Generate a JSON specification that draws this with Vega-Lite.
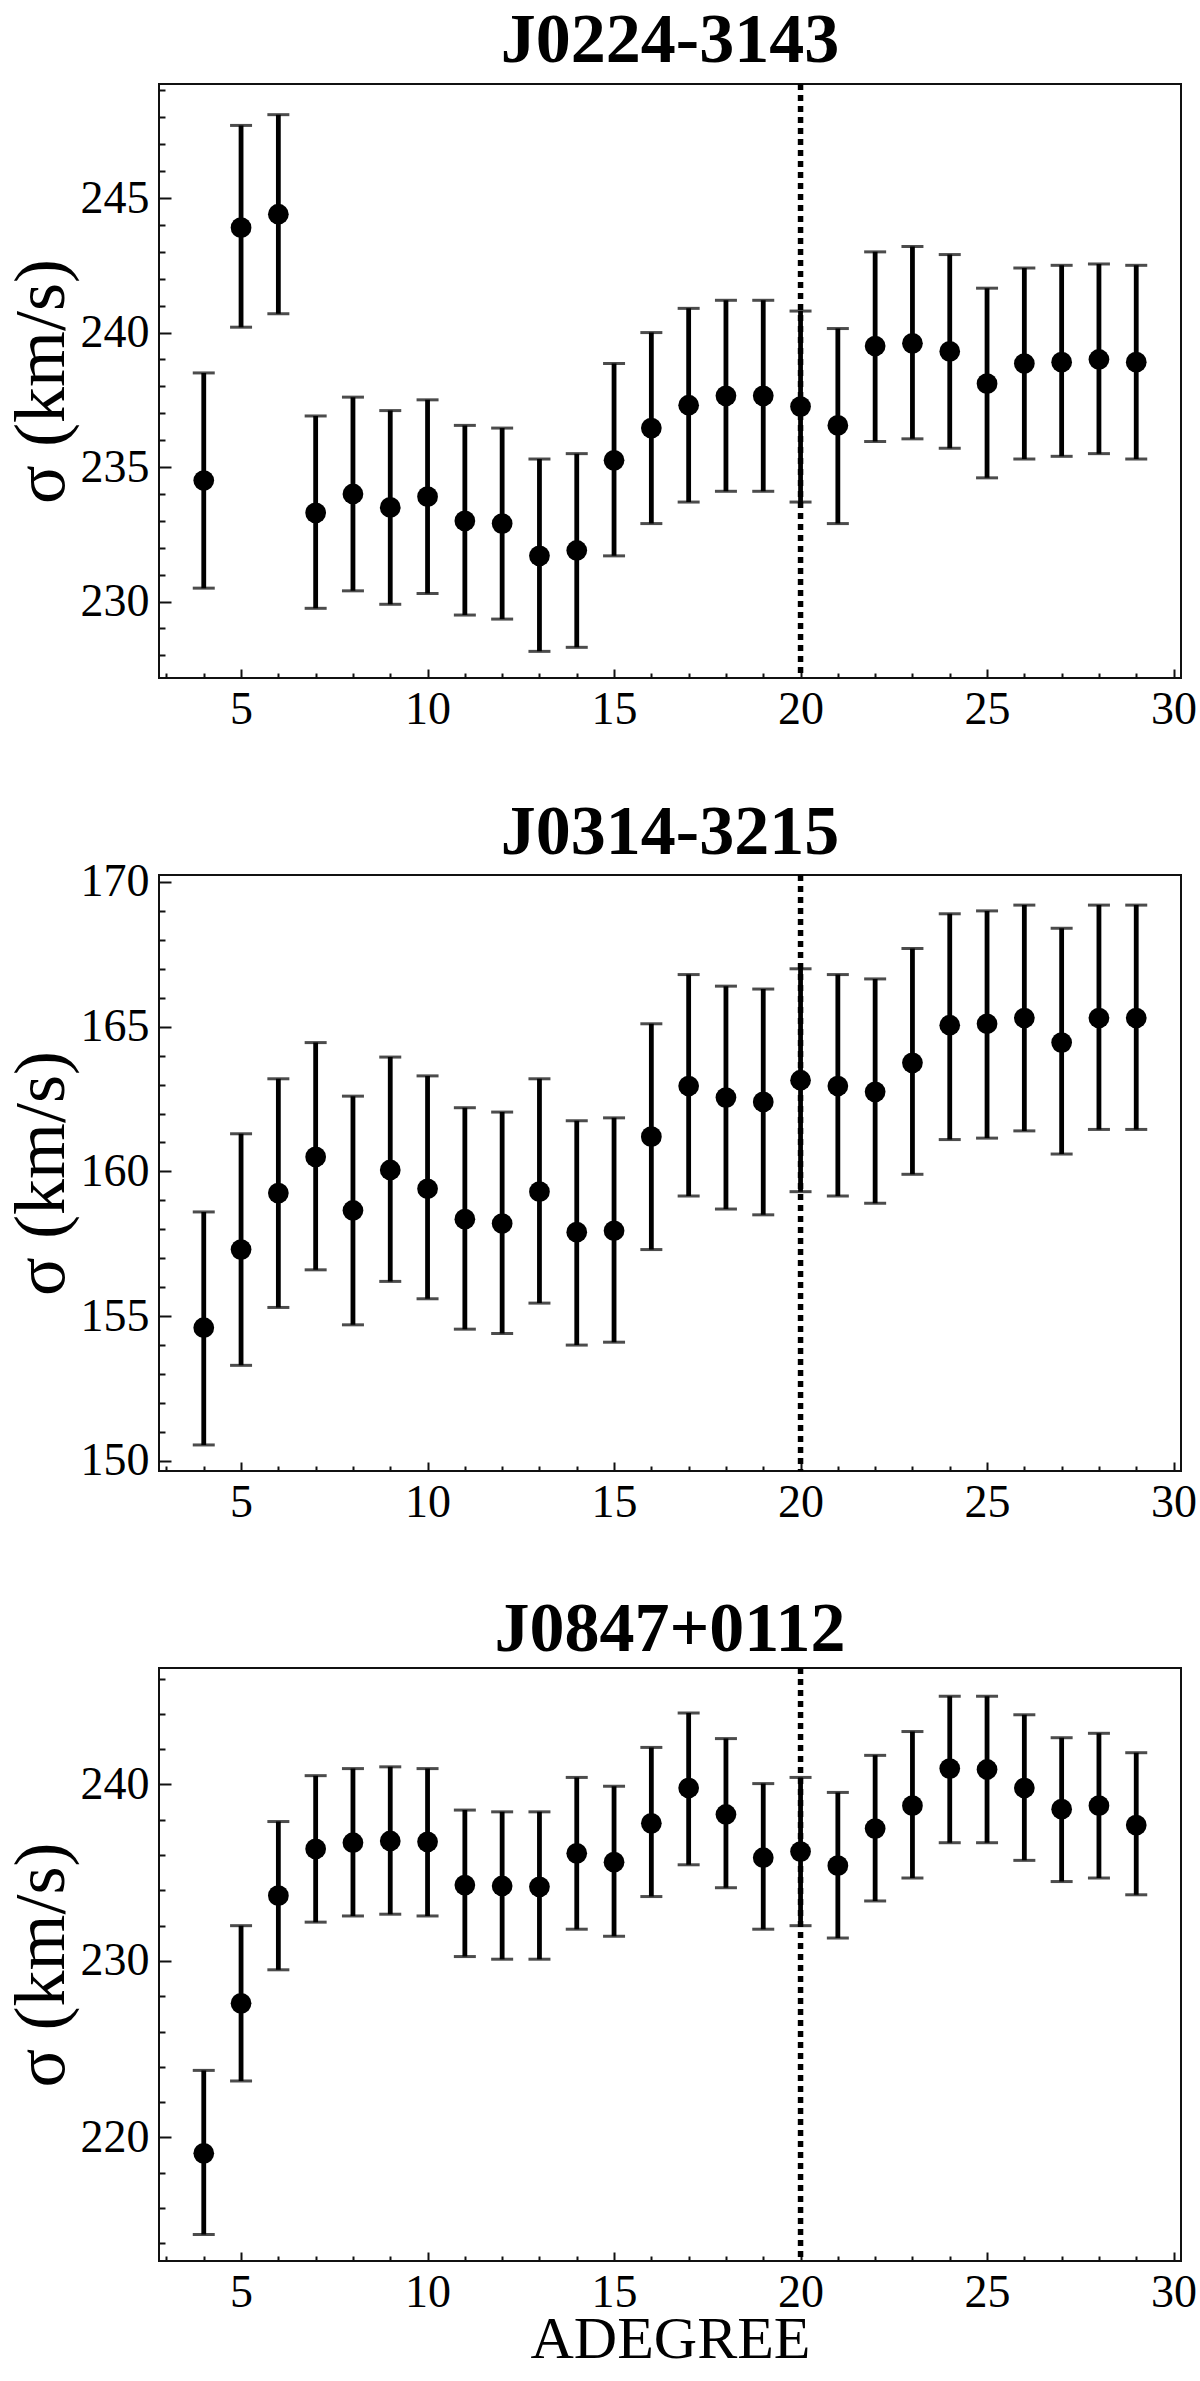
{
  "$schema": "https://vega.github.io/schema/vega-lite/v6.json",
  "background": "white",
  "padding": {"left": 4, "top": 5, "right": 0, "bottom": 0},
  "datasets": {
    "pts": [
      {"g": "J0224-3143", "x": 4, "s": 234.5, "lo": 230.5, "hi": 238.5},
      {"g": "J0224-3143", "x": 5, "s": 243.9, "lo": 240.2, "hi": 247.7},
      {"g": "J0224-3143", "x": 6, "s": 244.4, "lo": 240.7, "hi": 248.1},
      {"g": "J0224-3143", "x": 7, "s": 233.3, "lo": 229.75, "hi": 236.9},
      {"g": "J0224-3143", "x": 8, "s": 234.0, "lo": 230.4, "hi": 237.6},
      {"g": "J0224-3143", "x": 9, "s": 233.5, "lo": 229.9, "hi": 237.1},
      {"g": "J0224-3143", "x": 10, "s": 233.9, "lo": 230.3, "hi": 237.5},
      {"g": "J0224-3143", "x": 11, "s": 233.0, "lo": 229.5, "hi": 236.55},
      {"g": "J0224-3143", "x": 12, "s": 232.9, "lo": 229.35, "hi": 236.45},
      {"g": "J0224-3143", "x": 13, "s": 231.7, "lo": 228.15, "hi": 235.3},
      {"g": "J0224-3143", "x": 14, "s": 231.9, "lo": 228.3, "hi": 235.5},
      {"g": "J0224-3143", "x": 15, "s": 235.25, "lo": 231.7, "hi": 238.85},
      {"g": "J0224-3143", "x": 16, "s": 236.45, "lo": 232.9, "hi": 240.0},
      {"g": "J0224-3143", "x": 17, "s": 237.3, "lo": 233.7, "hi": 240.9},
      {"g": "J0224-3143", "x": 18, "s": 237.65, "lo": 234.1, "hi": 241.2},
      {"g": "J0224-3143", "x": 19, "s": 237.65, "lo": 234.1, "hi": 241.2},
      {"g": "J0224-3143", "x": 20, "s": 237.25, "lo": 233.7, "hi": 240.8},
      {"g": "J0224-3143", "x": 21, "s": 236.55, "lo": 232.9, "hi": 240.15},
      {"g": "J0224-3143", "x": 22, "s": 239.5, "lo": 235.95, "hi": 243.0},
      {"g": "J0224-3143", "x": 23, "s": 239.6, "lo": 236.05, "hi": 243.2},
      {"g": "J0224-3143", "x": 24, "s": 239.3, "lo": 235.7, "hi": 242.9},
      {"g": "J0224-3143", "x": 25, "s": 238.1, "lo": 234.6, "hi": 241.65},
      {"g": "J0224-3143", "x": 26, "s": 238.85, "lo": 235.3, "hi": 242.4},
      {"g": "J0224-3143", "x": 27, "s": 238.9, "lo": 235.4, "hi": 242.5},
      {"g": "J0224-3143", "x": 28, "s": 239.0, "lo": 235.5, "hi": 242.55},
      {"g": "J0224-3143", "x": 29, "s": 238.9, "lo": 235.3, "hi": 242.5},
      {"g": "J0314-3215", "x": 4, "s": 154.6, "lo": 150.55, "hi": 158.6},
      {"g": "J0314-3215", "x": 5, "s": 157.3, "lo": 153.3, "hi": 161.3},
      {"g": "J0314-3215", "x": 6, "s": 159.25, "lo": 155.3, "hi": 163.2},
      {"g": "J0314-3215", "x": 7, "s": 160.5, "lo": 156.6, "hi": 164.45},
      {"g": "J0314-3215", "x": 8, "s": 158.65, "lo": 154.7, "hi": 162.6},
      {"g": "J0314-3215", "x": 9, "s": 160.05, "lo": 156.2, "hi": 163.95},
      {"g": "J0314-3215", "x": 10, "s": 159.4, "lo": 155.6, "hi": 163.3},
      {"g": "J0314-3215", "x": 11, "s": 158.35, "lo": 154.55, "hi": 162.2},
      {"g": "J0314-3215", "x": 12, "s": 158.2, "lo": 154.4, "hi": 162.05},
      {"g": "J0314-3215", "x": 13, "s": 159.3, "lo": 155.45, "hi": 163.2},
      {"g": "J0314-3215", "x": 14, "s": 157.9, "lo": 154.0, "hi": 161.75},
      {"g": "J0314-3215", "x": 15, "s": 157.95, "lo": 154.1, "hi": 161.85},
      {"g": "J0314-3215", "x": 16, "s": 161.2, "lo": 157.3, "hi": 165.1},
      {"g": "J0314-3215", "x": 17, "s": 162.95, "lo": 159.15, "hi": 166.8},
      {"g": "J0314-3215", "x": 18, "s": 162.55, "lo": 158.7, "hi": 166.4},
      {"g": "J0314-3215", "x": 19, "s": 162.4, "lo": 158.5, "hi": 166.3},
      {"g": "J0314-3215", "x": 20, "s": 163.15, "lo": 159.3, "hi": 167.0},
      {"g": "J0314-3215", "x": 21, "s": 162.95, "lo": 159.15, "hi": 166.8},
      {"g": "J0314-3215", "x": 22, "s": 162.75, "lo": 158.9, "hi": 166.65},
      {"g": "J0314-3215", "x": 23, "s": 163.75, "lo": 159.9, "hi": 167.7},
      {"g": "J0314-3215", "x": 24, "s": 165.05, "lo": 161.1, "hi": 168.9},
      {"g": "J0314-3215", "x": 25, "s": 165.1, "lo": 161.15, "hi": 169.0},
      {"g": "J0314-3215", "x": 26, "s": 165.3, "lo": 161.4, "hi": 169.2},
      {"g": "J0314-3215", "x": 27, "s": 164.45, "lo": 160.6, "hi": 168.4},
      {"g": "J0314-3215", "x": 28, "s": 165.3, "lo": 161.45, "hi": 169.2},
      {"g": "J0314-3215", "x": 29, "s": 165.3, "lo": 161.45, "hi": 169.2},
      {"g": "J0847+0112", "x": 4, "s": 219.1, "lo": 214.5, "hi": 223.8},
      {"g": "J0847+0112", "x": 5, "s": 227.6, "lo": 223.2, "hi": 232.0},
      {"g": "J0847+0112", "x": 6, "s": 233.7, "lo": 229.5, "hi": 237.9},
      {"g": "J0847+0112", "x": 7, "s": 236.35, "lo": 232.2, "hi": 240.5},
      {"g": "J0847+0112", "x": 8, "s": 236.7, "lo": 232.55, "hi": 240.9},
      {"g": "J0847+0112", "x": 9, "s": 236.8, "lo": 232.65, "hi": 241.0},
      {"g": "J0847+0112", "x": 10, "s": 236.75, "lo": 232.55, "hi": 240.9},
      {"g": "J0847+0112", "x": 11, "s": 234.3, "lo": 230.25, "hi": 238.55},
      {"g": "J0847+0112", "x": 12, "s": 234.25, "lo": 230.1, "hi": 238.45},
      {"g": "J0847+0112", "x": 13, "s": 234.2, "lo": 230.1, "hi": 238.45},
      {"g": "J0847+0112", "x": 14, "s": 236.1, "lo": 231.8, "hi": 240.4},
      {"g": "J0847+0112", "x": 15, "s": 235.6, "lo": 231.4, "hi": 239.9},
      {"g": "J0847+0112", "x": 16, "s": 237.8, "lo": 233.65, "hi": 242.1},
      {"g": "J0847+0112", "x": 17, "s": 239.8, "lo": 235.45, "hi": 244.05},
      {"g": "J0847+0112", "x": 18, "s": 238.3, "lo": 234.15, "hi": 242.6},
      {"g": "J0847+0112", "x": 19, "s": 235.85, "lo": 231.8, "hi": 240.05},
      {"g": "J0847+0112", "x": 20, "s": 236.2, "lo": 232.0, "hi": 240.4},
      {"g": "J0847+0112", "x": 21, "s": 235.4, "lo": 231.3, "hi": 239.55},
      {"g": "J0847+0112", "x": 22, "s": 237.5, "lo": 233.4, "hi": 241.65},
      {"g": "J0847+0112", "x": 23, "s": 238.8, "lo": 234.7, "hi": 243.0},
      {"g": "J0847+0112", "x": 24, "s": 240.9, "lo": 236.7, "hi": 245.0},
      {"g": "J0847+0112", "x": 25, "s": 240.85, "lo": 236.7, "hi": 245.0},
      {"g": "J0847+0112", "x": 26, "s": 239.8, "lo": 235.7, "hi": 243.95},
      {"g": "J0847+0112", "x": 27, "s": 238.6, "lo": 234.5, "hi": 242.65},
      {"g": "J0847+0112", "x": 28, "s": 238.8, "lo": 234.7, "hi": 242.9},
      {"g": "J0847+0112", "x": 29, "s": 237.7, "lo": 233.75, "hi": 241.8}
    ],
    "ref": [{"x": 20}]
  },
  "config": {
    "view": {"stroke": "#111", "strokeWidth": 2},
    "font": "Liberation Serif",
    "axis": {
      "domain": false,
      "grid": false,
      "labelFont": "Liberation Serif",
      "labelFontSize": 46,
      "labelColor": "#000",
      "labelOverlap": false,
      "labelFlush": false,
      "tickColor": "#111",
      "tickWidth": 2,
      "titleFont": "Liberation Serif",
      "titleColor": "#000",
      "titleFontWeight": "normal"
    },
    "title": {"font": "Liberation Serif", "fontSize": 70, "fontWeight": "bold", "color": "#000", "baseline": "alphabetic", "offset": -10, "anchor": "middle"}
  },
  "vconcat": [
    {
      "title": "J0224-3143",
      "width": 1022,
      "height": 594,
      "data": {"name": "pts"},
      "transform": [{"filter": "datum.g === 'J0224-3143'"}],
      "encoding": {
        "x": {"field": "x", "type": "quantitative", "scale": {"domain": [2.8, 30.2], "nice": false, "zero": false},
          "axis": {"title": null, "values": [3,4,5,6,7,8,9,10,11,12,13,14,15,16,17,18,19,20,21,22,23,24,25,26,27,28,29,30],
            "labelExpr": "datum.value % 5 === 0 ? datum.label : ''",
            "tickSize": {"condition": {"test": "datum.value % 5 === 0", "value": -9}, "value": -5},
            "labelPadding": 18}},
        "y": {"field": "s", "type": "quantitative", "scale": {"domain": [227.16, 249.24], "nice": false, "zero": false},
          "axis": {"title": "σ (km/s)", "titleFontSize": 72, "titleX": -81, "titleBaseline": "bottom",
            "values": [228,229,230,231,232,233,234,235,236,237,238,239,240,241,242,243,244,245,246,247,248,249],
            "labelExpr": "datum.value % 5 === 0 ? datum.label : ''",
            "tickSize": {"condition": {"test": "datum.value % 5 === 0", "value": -12}, "value": -6},
            "labelPadding": 22}}
      },
      "layer": [
        {"data": {"name": "ref"}, "mark": {"type": "rule", "color": "#000", "strokeWidth": 5.5, "strokeDash": [6, 5]}, "encoding": {"y": null}},
        {"mark": {"type": "rule", "color": "#000", "strokeWidth": 4.8}, "encoding": {"y": {"field": "lo", "type": "quantitative"}, "y2": {"field": "hi"}}},
        {"mark": {"type": "tick", "orient": "horizontal", "color": "#000", "size": 22, "thickness": 3}, "encoding": {"y": {"field": "lo", "type": "quantitative"}}},
        {"mark": {"type": "tick", "orient": "horizontal", "color": "#000", "size": 22, "thickness": 3}, "encoding": {"y": {"field": "hi", "type": "quantitative"}}},
        {"mark": {"type": "point", "filled": true, "color": "#000", "opacity": 1, "size": 430, "shape": "circle"}}
      ]
    },
    {
      "title": "J0314-3215",
      "width": 1022,
      "height": 596,
      "data": {"name": "pts"},
      "transform": [{"filter": "datum.g === 'J0314-3215'"}],
      "encoding": {
        "x": {"field": "x", "type": "quantitative", "scale": {"domain": [2.8, 30.2], "nice": false, "zero": false},
          "axis": {"title": null, "values": [3,4,5,6,7,8,9,10,11,12,13,14,15,16,17,18,19,20,21,22,23,24,25,26,27,28,29,30],
            "labelExpr": "datum.value % 5 === 0 ? datum.label : ''",
            "tickSize": {"condition": {"test": "datum.value % 5 === 0", "value": -9}, "value": -5},
            "labelPadding": 18}},
        "y": {"field": "s", "type": "quantitative", "scale": {"domain": [149.65, 170.24], "nice": false, "zero": false},
          "axis": {"title": "σ (km/s)", "titleFontSize": 72, "titleX": -81, "titleBaseline": "bottom",
            "values": [150,151,152,153,154,155,156,157,158,159,160,161,162,163,164,165,166,167,168,169,170],
            "labelExpr": "datum.value % 5 === 0 ? datum.label : ''",
            "tickSize": {"condition": {"test": "datum.value % 5 === 0", "value": -12}, "value": -6},
            "labelPadding": 22}}
      },
      "layer": [
        {"data": {"name": "ref"}, "mark": {"type": "rule", "color": "#000", "strokeWidth": 5.5, "strokeDash": [6, 5]}, "encoding": {"y": null}},
        {"mark": {"type": "rule", "color": "#000", "strokeWidth": 4.8}, "encoding": {"y": {"field": "lo", "type": "quantitative"}, "y2": {"field": "hi"}}},
        {"mark": {"type": "tick", "orient": "horizontal", "color": "#000", "size": 22, "thickness": 3}, "encoding": {"y": {"field": "lo", "type": "quantitative"}}},
        {"mark": {"type": "tick", "orient": "horizontal", "color": "#000", "size": 22, "thickness": 3}, "encoding": {"y": {"field": "hi", "type": "quantitative"}}},
        {"mark": {"type": "point", "filled": true, "color": "#000", "opacity": 1, "size": 430, "shape": "circle"}}
      ]
    },
    {
      "title": "J0847+0112",
      "width": 1022,
      "height": 593,
      "data": {"name": "pts"},
      "transform": [{"filter": "datum.g === 'J0847+0112'"}],
      "encoding": {
        "x": {"field": "x", "type": "quantitative", "scale": {"domain": [2.8, 30.2], "nice": false, "zero": false},
          "axis": {"title": "ADEGREE", "titleFontSize": 60, "titleBaseline": "alphabetic", "titleY": 96,
            "values": [3,4,5,6,7,8,9,10,11,12,13,14,15,16,17,18,19,20,21,22,23,24,25,26,27,28,29,30],
            "labelExpr": "datum.value % 5 === 0 ? datum.label : ''",
            "tickSize": {"condition": {"test": "datum.value % 5 === 0", "value": -9}, "value": -5},
            "labelPadding": 18}},
        "y": {"field": "s", "type": "quantitative", "scale": {"domain": [213.0, 246.6], "nice": false, "zero": false},
          "axis": {"title": "σ (km/s)", "titleFontSize": 72, "titleX": -81, "titleBaseline": "bottom",
            "values": [214,216,218,220,222,224,226,228,230,232,234,236,238,240,242,244,246],
            "labelExpr": "datum.value % 10 === 0 ? datum.label : ''",
            "tickSize": {"condition": {"test": "datum.value % 10 === 0", "value": -12}, "value": -6},
            "labelPadding": 22}}
      },
      "layer": [
        {"data": {"name": "ref"}, "mark": {"type": "rule", "color": "#000", "strokeWidth": 5.5, "strokeDash": [6, 5]}, "encoding": {"y": null}},
        {"mark": {"type": "rule", "color": "#000", "strokeWidth": 4.8}, "encoding": {"y": {"field": "lo", "type": "quantitative"}, "y2": {"field": "hi"}}},
        {"mark": {"type": "tick", "orient": "horizontal", "color": "#000", "size": 22, "thickness": 3}, "encoding": {"y": {"field": "lo", "type": "quantitative"}}},
        {"mark": {"type": "tick", "orient": "horizontal", "color": "#000", "size": 22, "thickness": 3}, "encoding": {"y": {"field": "hi", "type": "quantitative"}}},
        {"mark": {"type": "point", "filled": true, "color": "#000", "opacity": 1, "size": 430, "shape": "circle"}}
      ]
    }
  ],
  "spacing": 197,
  "bounds": "flush"
}
